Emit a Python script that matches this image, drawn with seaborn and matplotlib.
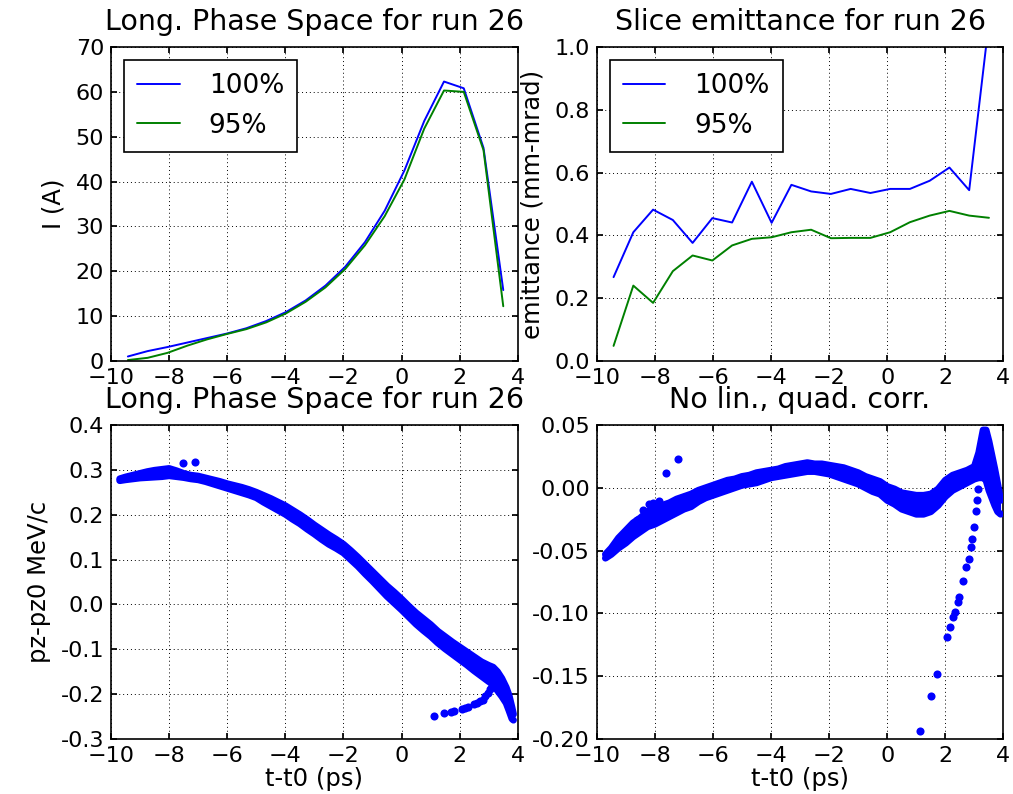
import numpy as np
import pandas as pd
import matplotlib
matplotlib.use("Agg")
import matplotlib.pyplot as plt
import seaborn as sns

# -------------------------------
# Data
# -------------------------------

# slice centres (ps), shared by current and emittance plots
slice_t = [-9.42, -8.74, -8.06, -7.38, -6.70, -6.02, -5.34, -4.66, -3.98, -3.30,
           -2.62, -1.94, -1.26, -0.58, 0.10, 0.78, 1.46, 2.14, 2.82, 3.50]

current_100 = [1.0, 2.2, 3.1, 4.1, 5.1, 6.1, 7.3, 8.9, 10.9, 13.5,
               16.8, 21.0, 26.5, 33.5, 42.5, 53.5, 62.3, 60.8, 47.5, 15.8]
current_95 = [0.2, 0.7, 1.8, 3.4, 4.8, 6.0, 7.1, 8.6, 10.6, 13.2,
              16.4, 20.5, 25.8, 32.3, 40.5, 51.8, 60.3, 60.0, 47.0, 12.2]

emit_100 = [0.267, 0.41, 0.482, 0.449, 0.376, 0.455, 0.441, 0.571, 0.44, 0.561,
            0.54, 0.532, 0.548, 0.535, 0.548, 0.548, 0.574, 0.616, 0.544, 1.08]
emit_95 = [0.048, 0.24, 0.185, 0.286, 0.336, 0.32, 0.368, 0.389, 0.394, 0.41,
           0.418, 0.391, 0.392, 0.392, 0.41, 0.442, 0.463, 0.478, 0.463, 0.456]

# longitudinal phase space band (edges of the particle cloud)
ps_t = [-9.7, -9.5, -9.25, -9.0, -8.75, -8.5, -8.25, -8.0, -7.75, -7.5,
        -7.25, -7.0, -6.75, -6.5, -6.25, -6.0, -5.75, -5.5, -5.25, -5.0,
        -4.75, -4.5, -4.25, -4.0, -3.75, -3.5, -3.25, -3.0, -2.75, -2.5,
        -2.25, -2.0, -1.75, -1.5, -1.25, -1.0, -0.75, -0.5, -0.25, 0.0,
        0.25, 0.5, 0.75, 1.0, 1.25, 1.5, 1.75, 2.0, 2.25, 2.5,
        2.75, 3.0, 3.15, 3.3, 3.45, 3.6, 3.7, 3.8, 3.85]
ps_dp_upper = [0.280, 0.284, 0.288, 0.292, 0.296, 0.299, 0.301, 0.303, 0.298, 0.292,
               0.288, 0.286, 0.282, 0.278, 0.274, 0.269, 0.265, 0.261, 0.256, 0.250,
               0.243, 0.236, 0.228, 0.220, 0.210, 0.200, 0.189, 0.177, 0.166, 0.155,
               0.145, 0.134, 0.120, 0.105, 0.089, 0.073, 0.057, 0.041, 0.027, 0.012,
               -0.004, -0.019, -0.032, -0.045, -0.060, -0.072, -0.084, -0.095, -0.106, -0.117,
               -0.128, -0.136, -0.140, -0.150, -0.165, -0.185, -0.203, -0.230, -0.245]
ps_dp_lower = [0.276, 0.278, 0.280, 0.282, 0.283, 0.284, 0.285, 0.287, 0.285, 0.283,
               0.280, 0.278, 0.274, 0.269, 0.264, 0.259, 0.254, 0.249, 0.244, 0.238,
               0.228, 0.219, 0.210, 0.201, 0.190, 0.180, 0.168, 0.157, 0.145, 0.134,
               0.125, 0.115, 0.100, 0.085, 0.068, 0.052, 0.035, 0.018, 0.003, -0.012,
               -0.028, -0.044, -0.058, -0.071, -0.086, -0.099, -0.111, -0.123, -0.135, -0.148,
               -0.160, -0.172, -0.178, -0.192, -0.205, -0.220, -0.237, -0.255, -0.258]
ps_extra_t = [-7.52, -7.10, 1.105, 1.47, 1.70, 1.80, 2.08, 2.20, 2.30, 2.48,
              2.60, 2.71, 2.80, 2.88, 2.97, 3.06, 3.12, 3.17, 3.22]
ps_extra_dp = [0.3145, 0.318, -0.249, -0.242, -0.239, -0.238, -0.233, -0.230, -0.228, -0.222,
               -0.219, -0.216, -0.212, -0.205, -0.197, -0.189, -0.180, -0.171, -0.162]

# same cloud with linear and quadratic correlation removed
corr_t = [-9.7, -9.5, -9.25, -9.0, -8.75, -8.5, -8.25, -8.0, -7.75, -7.5,
          -7.25, -7.0, -6.75, -6.5, -6.25, -6.0, -5.75, -5.5, -5.25, -5.0,
          -4.75, -4.5, -4.25, -4.0, -3.75, -3.5, -3.25, -3.0, -2.75, -2.5,
          -2.25, -2.0, -1.75, -1.5, -1.25, -1.0, -0.75, -0.5, -0.25, 0.0,
          0.25, 0.5, 0.75, 1.0, 1.25, 1.5, 1.75, 2.0, 2.25, 2.5,
          2.75, 3.0, 3.15, 3.3, 3.4, 3.5, 3.6, 3.7, 3.8, 3.9]
corr_dp_upper = [-0.053, -0.048, -0.040, -0.034, -0.028, -0.024, -0.019, -0.016, -0.014, -0.012,
                 -0.009, -0.007, -0.005, -0.002, 0.000, 0.002, 0.004, 0.006, 0.007, 0.009,
                 0.010, 0.012, 0.013, 0.014, 0.015, 0.017, 0.018, 0.019, 0.020, 0.019,
                 0.019, 0.018, 0.017, 0.016, 0.014, 0.012, 0.009, 0.007, 0.005, 0.001,
                 -0.001, -0.004, -0.005, -0.006, -0.006, -0.005, -0.001, 0.006, 0.010, 0.012,
                 0.014, 0.017, 0.028, 0.046, 0.046, 0.037, 0.026, 0.015, 0.003, -0.010]
corr_dp_lower = [-0.056, -0.053, -0.048, -0.044, -0.039, -0.035, -0.031, -0.029, -0.026, -0.023,
                 -0.020, -0.017, -0.015, -0.011, -0.008, -0.006, -0.004, -0.002, 0.000, 0.002,
                 0.003, 0.004, 0.006, 0.008, 0.009, 0.010, 0.011, 0.012, 0.013, 0.013,
                 0.012, 0.011, 0.009, 0.007, 0.005, 0.003, 0.000, -0.003, -0.005, -0.010,
                 -0.013, -0.017, -0.019, -0.021, -0.021, -0.019, -0.014, -0.007, -0.002, 0.001,
                 0.004, 0.007, 0.008, 0.008, 0.006, -0.002, -0.008, -0.014, -0.019, -0.021]
corr_extra_t = [-7.60, -7.20, -8.60, -8.40, -8.20, -8.05, -7.87, 1.125, 1.50, 1.72,
                2.06, 2.16, 2.25, 2.34, 2.43, 2.48, 2.61, 2.71, 2.80, 2.88,
                2.93, 3.00, 3.05, 3.09, 3.11]
corr_extra_dp = [0.0119, 0.0233, -0.0258, -0.018, -0.013, -0.012, -0.0105, -0.194, -0.1657, -0.148,
                 -0.1188, -0.111, -0.103, -0.099, -0.091, -0.087, -0.074, -0.063, -0.057, -0.0474,
                 -0.0407, -0.031, -0.0183, -0.010, -0.001]

# tick positions
t_ticks = [-10, -8, -6, -4, -2, 0, 2, 4]
cur_ticks = [0, 10, 20, 30, 40, 50, 60, 70]
emit_ticks = [0.0, 0.2, 0.4, 0.6, 0.8, 1.0]
ps_ticks = [-0.3, -0.2, -0.1, 0.0, 0.1, 0.2, 0.3, 0.4]
corr_ticks = [-0.20, -0.15, -0.10, -0.05, 0.00, 0.05]

# -------------------------------
# Style (classic matplotlib look)
# -------------------------------

sns.set_theme(style="white", rc={
    "axes.edgecolor": "black",
    "axes.linewidth": 1.0,
    "xtick.direction": "in",
    "ytick.direction": "in",
    "xtick.top": True,
    "ytick.right": True,
    "xtick.bottom": True,
    "ytick.left": True,
    "xtick.major.size": 4,
    "ytick.major.size": 4,
    "xtick.major.pad": 5,
    "ytick.major.pad": 5,
    "xtick.color": "black",
    "ytick.color": "black",
    "xtick.labelsize": 16,
    "ytick.labelsize": 16,
    "axes.labelsize": 17.5,
    "axes.titlesize": 20.5,
    "axes.titlepad": 12,
    "axes.labelcolor": "black",
    "text.color": "black",
})
plt.rcParams["font.family"] = ["DejaVu Sans"]

fig, axes = plt.subplots(2, 2, figsize=(10.13, 7.94), dpi=100)
fig.subplots_adjust(left=0.1096, right=0.9906, bottom=0.0693, top=0.9408,
                    wspace=0.194, hspace=0.204)

BLUE = "#0000ff"
GREEN = "#008000"
LINE_W = 1.4

# -------------------------------
# Current profile
# -------------------------------

ax = axes[0, 0]
df_cur = pd.DataFrame({"t": slice_t * 2,
                       "I": current_100 + current_95,
                       "cut": ["100%"] * len(slice_t) + ["95%"] * len(slice_t)})
sns.lineplot(data=df_cur, x="t", y="I", hue="cut", palette=[BLUE, GREEN],
             linewidth=LINE_W, ax=ax, sort=False)
ax.set_xlim(-10, 4)
ax.set_ylim(0, 70)
ax.set_xticks(t_ticks)
ax.set_yticks(cur_ticks)
ax.set_xlabel("")
ax.set_ylabel("I (A)", labelpad=7)
ax.set_title("Long. Phase Space for run 26")

# -------------------------------
# Slice emittance
# -------------------------------

ax = axes[0, 1]
df_em = pd.DataFrame({"t": slice_t * 2,
                      "emit": emit_100 + emit_95,
                      "cut": ["100%"] * len(slice_t) + ["95%"] * len(slice_t)})
sns.lineplot(data=df_em, x="t", y="emit", hue="cut", palette=[BLUE, GREEN],
             linewidth=LINE_W, ax=ax, sort=False)
ax.set_xlim(-10, 4)
ax.set_ylim(0, 1.0)
ax.set_xticks(t_ticks)
ax.set_yticks(emit_ticks)
ax.yaxis.set_major_formatter(matplotlib.ticker.FormatStrFormatter("%.1f"))
ax.set_xlabel("")
ax.set_ylabel("emittance (mm-mrad)", labelpad=7)
ax.set_title("Slice emittance for run 26")

for ax in axes[0]:
    leg = ax.legend(loc="upper left", fontsize=19, frameon=True, fancybox=False,
                    framealpha=1, edgecolor="black", borderpad=0.5,
                    handlelength=1.6, handletextpad=1.1, labelspacing=0.5,
                    borderaxespad=0.5)
    leg.get_frame().set_linewidth(1.2)

# -------------------------------
# Phase space scatter plots
# -------------------------------

def draw_cloud(ax, t, upper, lower, extra_t, extra_dp):
    # body of the cloud, then its rounded edges, then the loose particles
    ax.fill_between(t, lower, upper, color=BLUE, linewidth=0, zorder=2)
    for edge in (upper, lower):
        sns.lineplot(x=t, y=edge, color=BLUE, linewidth=5, sort=False,
                     estimator=None, ax=ax, zorder=3,
                     solid_capstyle="round", solid_joinstyle="round")
    loose = pd.DataFrame({"t": extra_t, "dp": extra_dp})
    sns.scatterplot(data=loose, x="t", y="dp", color=BLUE, s=34,
                    linewidth=0, ax=ax, zorder=3)

ax = axes[1, 0]
draw_cloud(ax, ps_t, ps_dp_upper, ps_dp_lower, ps_extra_t, ps_extra_dp)
ax.set_xlim(-10, 4)
ax.set_ylim(-0.3, 0.4)
ax.set_xticks(t_ticks)
ax.set_yticks(ps_ticks)
ax.yaxis.set_major_formatter(matplotlib.ticker.FormatStrFormatter("%.1f"))
ax.set_xlabel("t-t0 (ps)", labelpad=1)
ax.set_ylabel("pz-pz0 MeV/c", labelpad=7)
ax.set_title("Long. Phase Space for run 26")

ax = axes[1, 1]
draw_cloud(ax, corr_t, corr_dp_upper, corr_dp_lower, corr_extra_t, corr_extra_dp)
ax.set_xlim(-10, 4)
ax.set_ylim(-0.2, 0.05)
ax.set_xticks(t_ticks)
ax.set_yticks(corr_ticks)
ax.yaxis.set_major_formatter(matplotlib.ticker.FormatStrFormatter("%.2f"))
ax.set_xlabel("t-t0 (ps)", labelpad=1)
ax.set_ylabel("")
ax.set_title("No lin., quad. corr.")

for ax in axes.flat:
    ax.grid(True, color="black", linestyle=(0, (1, 3)), linewidth=0.7)
    ax.set_axisbelow(True)
    ax.tick_params(which="both", top=True, right=True, direction="in")
    for sp in ax.spines.values():
        sp.set_visible(True)
        sp.set_color("black")
        sp.set_linewidth(1.2)

fig.savefig("out.png", dpi=100, facecolor="white")
plt.close(fig)
